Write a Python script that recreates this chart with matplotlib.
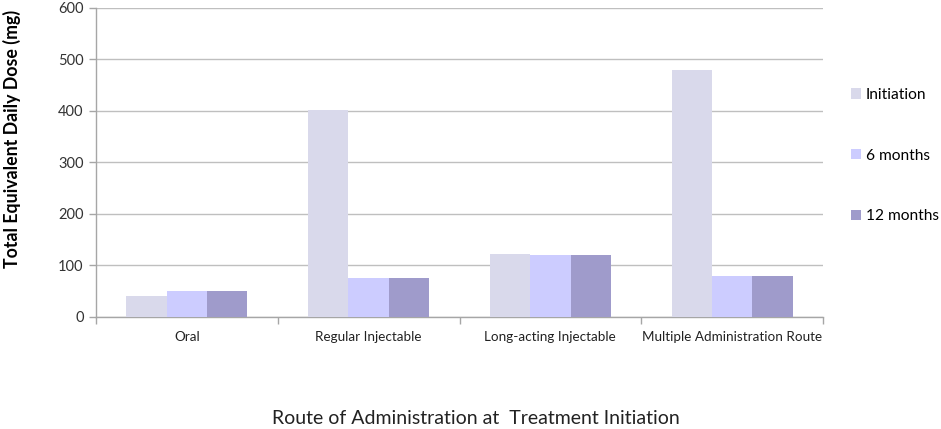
import matplotlib
matplotlib.use("Agg")
import matplotlib.pyplot as plt
import numpy as np
from matplotlib.patches import Patch

categories = ["Oral", "Regular Injectable", "Long-acting Injectable", "Multiple Administration Route"]
series_names = ["Initiation", "6 months", "12 months"]
initiation = [40, 402, 122, 480]
six_months = [50, 75, 119, 79]
twelve_months = [50, 75, 119, 79]
yticks = [0, 100, 200, 300, 400, 500, 600]

colors = ["#D9D9EB", "#CCCCFF", "#9F9BCB"]
plt.rcParams['font.family'] = ['Lato', 'DejaVu Sans']

fig = plt.figure(figsize=(9.41, 4.29), dpi=100)
ax = fig.add_axes([96/941, 1-316.7/429, (823-96)/941, (316.7-8)/429])

x = np.arange(len(categories))
w = 0.222
for i, (vals, c) in enumerate(zip([initiation, six_months, twelve_months], colors)):
    ax.bar(x + (i-1)*w, vals, width=w, color=c, zorder=3, linewidth=0)

ax.set_xlim(-0.5, len(categories)-0.5)
ax.set_ylim(0, 600)
ax.set_yticks(yticks)
ax.set_yticklabels([str(t) for t in yticks], fontsize=10.5, color="#333333")
ax.yaxis.grid(True, color="#BFBFBF", linewidth=1, zorder=0)
ax.set_xticks(x)
ax.set_xticklabels(categories, fontsize=9.7, color="#222222")
ax.tick_params(axis='x', which='major', length=0, pad=10)
ax.set_xticks(np.arange(-0.5, len(categories)), minor=True)
ax.tick_params(axis='x', which='minor', length=5, color="#A6A6A6", width=1)
ax.tick_params(axis='y', length=5, color="#A6A6A6", width=1, pad=4)
for s in ['top', 'right']:
    ax.spines[s].set_visible(False)
for s in ['left', 'bottom']:
    ax.spines[s].set_color("#A6A6A6")
    ax.spines[s].set_linewidth(1)

ax.set_ylabel("Total Equivalent Daily Dose (mg)", fontsize=12.8, fontweight='bold')
ax.yaxis.set_label_coords((21-96)/727, (316.7-139)/308.7)
fig.text(476/941, 1-418/429, "Route of Administration at  Treatment Initiation",
         ha='center', va='center', fontsize=14, color="#222222")

handles = [Patch(facecolor=c, edgecolor='none') for c in colors]
leg = fig.legend(handles, series_names, loc='center left', bbox_to_anchor=(851/941, 1-155.5/429),
                 frameon=False, fontsize=11.2, labelspacing=3.0, handlelength=0.65,
                 handleheight=0.65, handletextpad=0.3, borderpad=0, borderaxespad=0)

fig.savefig("out.png", dpi=100)
